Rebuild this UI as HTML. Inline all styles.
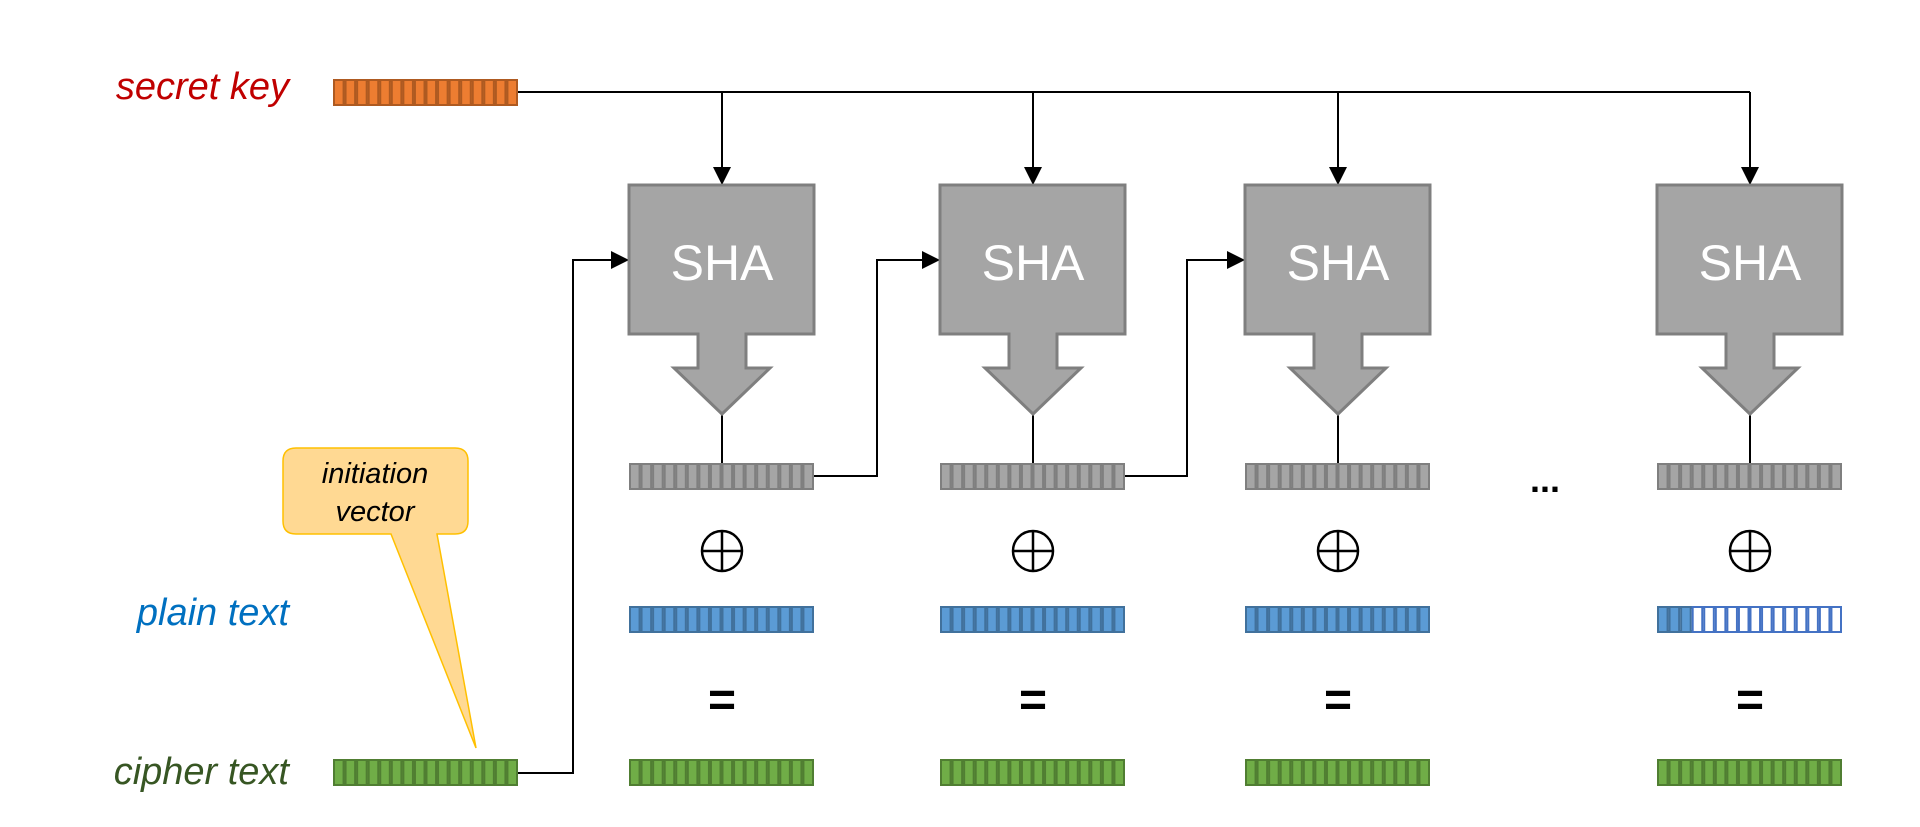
<!DOCTYPE html>
<html><head><meta charset="utf-8"><style>
html,body{margin:0;padding:0;background:#fff;width:1920px;height:827px;overflow:hidden}
svg{display:block}
.lbl{font-family:"Liberation Sans",sans-serif;font-style:italic;font-size:38px}
</style></head><body>
<svg id="s" width="1920" height="827" viewBox="0 0 1920 827" xmlns="http://www.w3.org/2000/svg">
<defs>
<marker id="ah" viewBox="0 0 10 10" refX="10" refY="5" markerWidth="18" markerHeight="18" markerUnits="userSpaceOnUse" orient="auto"><path d="M0,0 L10,5 L0,10 z" fill="#000"/></marker>
</defs>
<text class="lbl" x="289" y="99" text-anchor="end" fill="#c00000">secret key</text>
<text class="lbl" x="289" y="625" text-anchor="end" fill="#0070c0">plain text</text>
<text class="lbl" x="289" y="784" text-anchor="end" fill="#375623">cipher text</text>

<g fill="none" stroke="#000" stroke-width="2">
<path d="M517,92 H1750"/>
<path d="M722,92 V185" marker-end="url(#ah)"/>
<path d="M1033,92 V185" marker-end="url(#ah)"/>
<path d="M1338,92 V185" marker-end="url(#ah)"/>
<path d="M1750,92 V185" marker-end="url(#ah)"/>
<path d="M517,773 H573 V260 H629" marker-end="url(#ah)"/>
<path d="M814,476 H877 V260 H940" marker-end="url(#ah)"/>
<path d="M1125,476 H1187 V260 H1245" marker-end="url(#ah)"/>
<path d="M722,414 V463 M1033,414 V463 M1338,414 V463 M1750,414 V463"/>
</g>

<g id="shas" fill="#a5a5a5" stroke="#7f7f7f" stroke-width="3"></g>

<g font-family="Liberation Sans,sans-serif" font-size="50" fill="#fff" text-anchor="middle">
<text x="722" y="280">SHA</text><text x="1033" y="280">SHA</text><text x="1338" y="280">SHA</text><text x="1750" y="280">SHA</text>
</g>

<g id="bars"></g>

<g font-family="Liberation Sans,sans-serif" font-size="48" font-weight="bold" fill="#000" text-anchor="middle">
<text x="722" y="716">=</text><text x="1033" y="716">=</text><text x="1338" y="716">=</text><text x="1750" y="716">=</text>
<text x="1545" y="492" font-size="36">...</text>
</g>
<g id="xor" fill="none" stroke="#000" stroke-width="2.5"></g>

<path d="M296,448 H455 Q468,448 468,461 V521 Q468,534 455,534 H437 L476,748 L391,534 H296 Q283,534 283,521 V461 Q283,448 296,448 Z" fill="#ffd993" stroke="#ffc000" stroke-width="1.5"/>
<g font-family="Liberation Sans,sans-serif" font-style="italic" font-size="29" fill="#000" text-anchor="middle">
<text x="375" y="483">initiation</text><text x="375" y="521">vector</text>
</g>
</svg>
<script>
var NS="http://www.w3.org/2000/svg",s=document.getElementById('s');
function el(p,t,a){var e=document.createElementNS(NS,t);for(var k in a)e.setAttribute(k,a[k]);p.appendChild(e);return e;}
var xs=[629,940,1245,1657];
var sh=document.getElementById('shas');
xs.forEach(function(x){var c=x+93;
el(sh,'path',{d:'M'+x+',185 H'+(x+185)+' V334 H'+(c+24)+' V368 H'+(c+48)+' L'+c+',414 L'+(c-48)+',368 H'+(c-24)+' V334 H'+x+' Z'});});
var bars=document.getElementById('bars');
function bar(x,y,fill,stroke,blueN){
 var w=185,h=27,n=16,cw=w/n;
 el(bars,'rect',{x:x+1.5,y:y+1.5,width:w-3,height:h-3,fill:blueN!==undefined?'#fff':fill,stroke:blueN!==undefined?'#4472c4':stroke,'stroke-width':3});
 for(var i=0;i<n;i++){var f=fill,st=stroke;
  if(blueN!==undefined){if(i<blueN){f='#5b9bd5';st='#41719c';}else{f='#fff';st='#4472c4';}}
  el(bars,'rect',{x:x+i*cw+1,y:y+1,width:cw-2,height:h-2,fill:f,stroke:st,'stroke-width':2});}
}
bar(333,79,'#ed7d31','#ae5a21');
bar(333,759,'#70ad47','#507e32');
xs.forEach(function(x,i){
 bar(x,463,'#a5a5a5','#7f7f7f');
 if(i<3)bar(x,606,'#5b9bd5','#41719c');else bar(x,606,null,null,3);
 bar(x,759,'#70ad47','#507e32');
});
var xr=document.getElementById('xor');
[722,1033,1338,1750].forEach(function(c){
 el(xr,'circle',{cx:c,cy:551,r:20});
 el(xr,'path',{d:'M'+(c-20)+',551 H'+(c+20)+' M'+c+',531 V571'});
});
</script>
</body></html>
